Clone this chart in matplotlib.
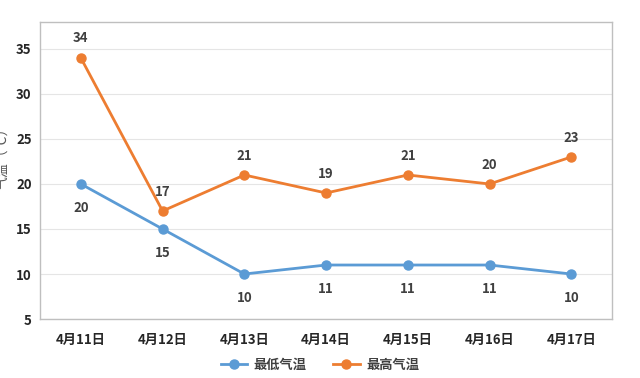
import matplotlib
matplotlib.use("Agg")
import matplotlib.pyplot as plt

plt.rcParams['font.family'] = ['Noto Sans CJK SC', 'DejaVu Sans']

dates = ["4月11日", "4月12日", "4月13日", "4月14日", "4月15日", "4月16日", "4月17日"]
low = [20, 15, 10, 11, 11, 11, 10]
high = [34, 17, 21, 19, 21, 20, 23]

fig = plt.figure(figsize=(6.4, 3.78), dpi=100)
ax = fig.add_axes([0.0625, 0.156, 0.894, 0.786])
x = list(range(len(dates)))
blue = "#5B9BD5"
orange = "#ED7D31"
ax.plot(x, low, color=blue, lw=2, marker='o', ms=6.5, label="最低气温", zorder=3)
ax.plot(x, high, color=orange, lw=2, marker='o', ms=6.5, label="最高气温", zorder=3)

for xi, v in zip(x, low):
    ax.annotate(str(v), (xi, v), xytext=(0, -17), textcoords='offset points',
                ha='center', va='center', fontsize=9.5, fontweight='bold', color='#404040')
for xi, v in zip(x, high):
    ax.annotate(str(v), (xi, v), xytext=(0, 14), textcoords='offset points',
                ha='center', va='center', fontsize=9.5, fontweight='bold', color='#404040')

ax.set_xlim(-0.5, 6.5)
ax.set_ylim(5, 38)
ax.set_yticks([5, 10, 15, 20, 25, 30, 35])
ax.set_xticks(x)
ax.set_xticklabels(dates)
ax.tick_params(axis='both', length=0, labelsize=9.5, colors='#262626', pad=6)
for lab in ax.get_xticklabels() + ax.get_yticklabels():
    lab.set_fontweight('bold')
ax.tick_params(axis='x', pad=10)
ax.grid(axis='y', color='#E5E5E5', lw=0.8)
ax.set_axisbelow(True)
for s in ax.spines.values():
    s.set_color('#BFBFBF')
    s.set_linewidth(1.0)

fig.text(-0.006, 0.59, "气温（℃）", rotation=90, ha='left', va='center', fontsize=10, color='#595959')

fig.legend(loc='center', bbox_to_anchor=(0.5, 0.035), ncol=2, frameon=False,
           prop={'size': 9.5, 'weight': 'bold'}, handlelength=2.0, columnspacing=2.0,
           handletextpad=0.5, labelcolor='#404040')

fig.savefig("out.png", dpi=100)
